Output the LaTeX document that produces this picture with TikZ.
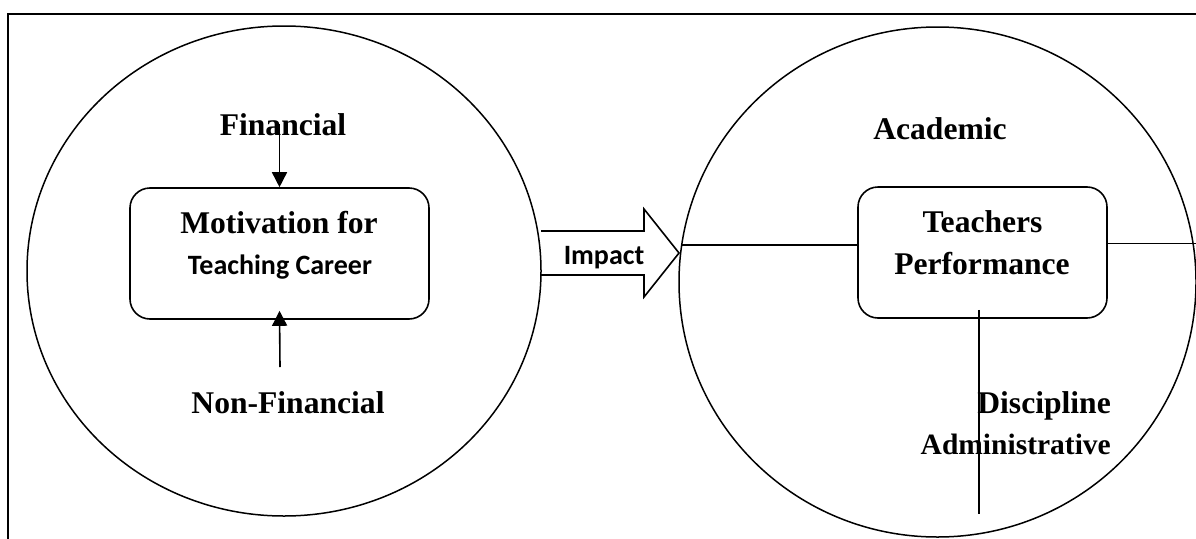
\documentclass[tikz,border=0pt]{standalone}
\usepackage{fontspec}
\setmainfont{Liberation Serif}
\newfontfamily\calibri{Carlito}
\usetikzlibrary{arrows.meta,shapes.geometric}
\begin{document}
\begin{tikzpicture}[x=1pt,y=-1pt,
  ser/.style={font=\fontsize{31.6}{36}\selectfont\bfseries, inner sep=0pt, anchor=base},
  sersm/.style={font=\fontsize{29.5}{34}\selectfont\bfseries, inner sep=0pt, anchor=base},
  sans/.style={font=\fontsize{28}{32}\selectfont\calibri\bfseries, inner sep=0pt, anchor=base},
  ring/.style={draw, ellipse, line width=1.5pt, inner sep=0pt},
  rbox/.style={draw, rectangle, rounded corners=20pt, line width=1.6pt, inner sep=0pt},
  arr/.style={line width=1.6pt, -{Triangle[length=15pt,width=15pt]}},
  link/.style={line width=1.6pt},
  frameline/.style={line width=2.2pt}]
\useasboundingbox (0,0) rectangle (1196,538);
\fill[white] (0,0) rectangle (1196,538);
% outer frame
\draw[frameline] (8.3,545) -- (8.3,14.3) -- (1205,14.3);
% circles
\node[ring, minimum width=514pt, minimum height=490pt] (lc) at (284,271) {};
\node[ring, minimum width=517pt, minimum height=510pt] (rc) at (937.5,282) {};
% boxes
\node[rbox, minimum width=299pt, minimum height=131pt] (mot) at (279.5,253.5) {};
\node[rbox, minimum width=249pt, minimum height=131pt] (tp) at (982.5,252.5) {};
% texts left
\node[ser] (fin) at (283,135) {Financial};
\node[ser] (mot1) at (279,233) {Motivation for};
\node[sans] (mot2) at (280,274.5) {Teaching Career};
\node[ser] (nf) at (288,413.5) {Non-Financial};
% texts right
\node[ser] (acad) at (940,139.5) {Academic};
\node[ser] (tp1) at (982.5,232.5) {Teachers};
\node[ser] (tp2) at (982,274.5) {Performance};
\node[ser, anchor=base east] (disc) at (1111,413.7) {Discipline};
\node[sersm, anchor=base east] (adm) at (1111,454) {Administrative};
% impact arrow
\draw[link] (541,231) -- (644,231) -- (644,209) -- (679,253) -- (644,297) -- (644,275) -- (541,275);
\node[sans] (imp) at (604,264) {Impact};
% arrows left
\coordinate (nfTop) at (280,367);
\draw[arr] (mot.north |- fin.center) -- (mot.north);
\draw[arr] (nfTop) -- ([yshift=9pt]mot.south);
% lines right
\coordinate (lEdge) at (681.5,245);
\coordinate (rEdge) at (1196,243.5);
\coordinate (vEnd) at (979,514);
\draw[link] (lEdge) -- (lEdge -| tp.west);
\draw[link] (rEdge -| tp.east) -- (rEdge);
\draw[link] ([xshift=-3.5pt,yshift=9pt]tp.south) -- (vEnd);
\end{tikzpicture}
\end{document}
